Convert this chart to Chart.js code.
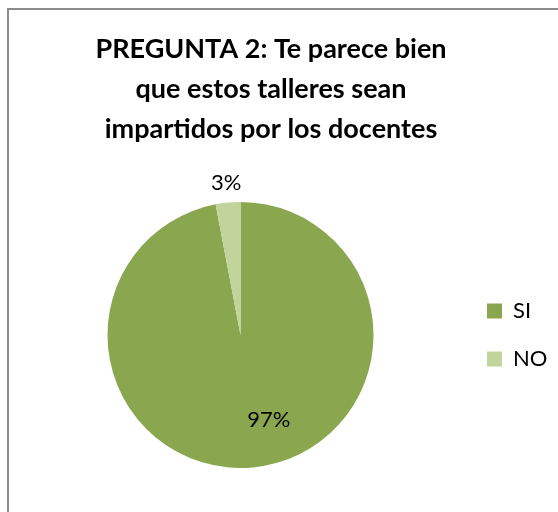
<!DOCTYPE html>
<html>
<head>
<meta charset="utf-8">
<script src="https://cdn.jsdelivr.net/npm/chart.js@4.4.1/dist/chart.umd.min.js"></script>
<style>
  html, body { margin: 0; padding: 0; background: #fff; overflow: hidden; }
  #wrap { position: relative; width: 558px; height: 512px; }
  #frame {
    position: absolute; left: 7px; top: 8px; width: 600px; height: 600px;
    border: 2px solid #8c8c8c; box-sizing: border-box;
  }
  #chart { position: absolute; left: 0; top: 0; }
</style>
</head>
<body>
<div id="wrap">
  <div id="frame"></div>
  <canvas id="chart" width="558" height="512"></canvas>
</div>
<script>
// data
const labels = ['SI', 'NO'];
const values = [97, 3];
const colors = ['#8aa64f', '#c0d49b'];
const titleLines = ['PREGUNTA 2: Te parece bien', 'que estos talleres sean', 'impartidos por los docentes'];

// percentage labels: big slice inside, small slice just outside the rim
const pctLabels = {
  id: 'pctLabels',
  afterLayout(chart) {
    // legend is kept narrow so the title centres like excel; let its text spill to the right
    chart.legend.right = chart.width;
    chart.legend.width = chart.legend.right - chart.legend.left;
  },
  afterDatasetsDraw(chart) {
    const { ctx } = chart;
    const meta = chart.getDatasetMeta(0);
    const total = values.reduce((a, b) => a + b, 0);
    ctx.save();
    ctx.font = '22px Lato';
    ctx.fillStyle = '#000';
    ctx.textAlign = 'center';
    ctx.textBaseline = 'middle';
    meta.data.forEach((arc, i) => {
      const { x, y, startAngle, endAngle, outerRadius } = arc.getProps(['x', 'y', 'startAngle', 'endAngle', 'outerRadius'], true);
      let mid = (startAngle + endAngle) / 2;
      let r;
      if (values[i] / total > 0.1) {
        mid -= 13 * Math.PI / 180; // excel best fit sits a bit off the middle
        r = outerRadius * 0.675;
      } else {
        r = outerRadius + 20;
      }
      const txt = Math.round(values[i] / total * 100) + '%';
      ctx.fillText(txt, x + Math.cos(mid) * r, y + Math.sin(mid) * r);
    });
    ctx.restore();
  }
};

new Chart(document.getElementById('chart'), {
  type: 'pie',
  data: {
    labels: labels,
    datasets: [{
      data: values,
      backgroundColor: colors,
      borderWidth: 0
    }]
  },
  options: {
    responsive: false,
    animation: false,
    devicePixelRatio: 1,
    layout: {
      padding: { top: 0, left: 20, right: 36, bottom: 44 }
    },
    plugins: {
      title: {
        display: true,
        text: titleLines,
        color: '#000',
        font: { family: 'Lato', size: 27, weight: 'bold', lineHeight: '40px' },
        padding: { top: 29, bottom: 53 }
      },
      legend: {
        display: true,
        position: 'right',
        fullSize: false,
        maxWidth: 61,
        labels: {
          boxWidth: 15,
          boxHeight: 15,
          padding: 26,
          color: '#000',
          font: { family: 'Lato', size: 22 }
        }
      },
      tooltip: { enabled: false }
    }
  },
  plugins: [pctLabels]
});
</script>
</body>
</html>
